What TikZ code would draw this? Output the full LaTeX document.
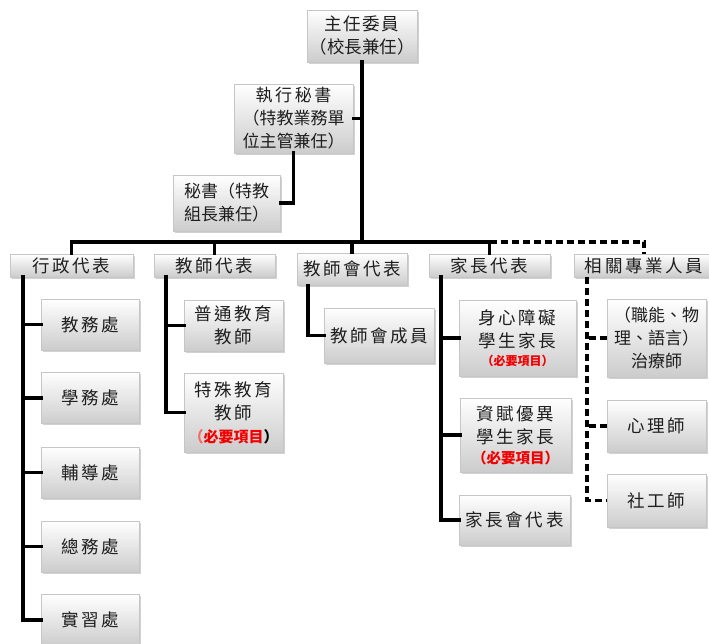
\documentclass[tikz,border=0pt]{standalone}
\usepackage{fontspec}
\newfontfamily\cjk[LetterSpace=15]{Noto Sans CJK TC}
\newfontfamily\cjkn[LetterSpace=0]{Noto Sans CJK TC}
\newfontfamily\cjkr{Noto Sans CJK TC}
\usetikzlibrary{shadows,calc}
\definecolor{txt}{RGB}{30,30,30}
\definecolor{req}{RGB}{240,0,0}
\tikzset{
  box/.style={draw=gray!45, line width=0.4pt, top color=white, bottom color=gray!40,
    drop shadow={shadow xshift=1.5pt, shadow yshift=-1.8pt, opacity=0.35},
    align=center, inner sep=1pt, text=txt,
    font=\cjk\fontsize{17.5}{23}\selectfont},
  nbox/.style={box, font=\cjkn\fontsize{17}{23}\selectfont},
  conn/.style={line width=3.4pt, line cap=rect},
  dconn/.style={line width=3.4pt, dash pattern=on 7pt off 4pt},
}
\begin{document}
\begin{tikzpicture}[x=1pt,y=-1pt]
\useasboundingbox[fill=white] (0,0) rectangle (709,644);
% top level
\node[box, minimum width=110pt, minimum height=52pt, font=\cjkn\fontsize{17.5}{23}\selectfont] (top) at (362,36) {\addfontfeature{LetterSpace=8}主任委員\\（校長兼任）};
\node[nbox, minimum width=119pt, minimum height=69pt] (exec) at (293.5,118.5) {\addfontfeature{LetterSpace=15}執行秘書\\（特教業務單\\位主管兼任）};
\node[nbox, minimum width=107pt, minimum height=56pt] (sec) at (226.5,203) {秘書（特教\\組長兼任）};
% second row
\node[box, minimum width=123pt, minimum height=23pt] (xz) at (71.5,265.5) {行政代表};
\node[box, minimum width=121pt, minimum height=23pt] (js) at (214.5,265.5) {教師代表};
\node[box, minimum width=110pt, minimum height=32pt] (jsh) at (352,269) {教師會代表};
\node[box, minimum width=121pt, minimum height=23pt] (jz) at (489.5,265.5) {家長代表};
\node[box, minimum width=140pt, minimum height=23pt] (xg) at (644,265.5) {相關專業人員};
% administrative
\node[box, minimum width=98pt, minimum height=51pt] (a1) at (90,324.5) {教務處};
\node[box, minimum width=98pt, minimum height=51pt] (a2) at (90,398) {學務處};
\node[box, minimum width=98pt, minimum height=51pt] (a3) at (90,472.5) {輔導處};
\node[box, minimum width=98pt, minimum height=51pt] (a4) at (90,546.5) {總務處};
\node[box, minimum width=98pt, minimum height=51pt] (a5) at (90,620) {實習處};
% teachers
\node[box, minimum width=99pt, minimum height=51pt] (t1) at (233.5,325.5) {普通教育\\教師};
\node[box, minimum width=99pt, minimum height=79pt] (t2) at (233.5,412.5) {特殊教育\\教師\\{\cjkr\bfseries\fontsize{15}{20}\selectfont{\color{req!60}（}\color{req}必要項目\color{black}）}};
% teachers' association
\node[box, minimum width=110pt, minimum height=55pt] (m1) at (379,335.5) {教師會成員};
% parents
\node[box, minimum width=117pt, minimum height=76pt] (p1) at (517.5,338) {身心障礙\\學生家長\\[-5pt]{\cjkr\bfseries\fontsize{12}{14}\selectfont\color{req}（必要項目）}};
\node[box, minimum width=111pt, minimum height=74pt] (p2) at (515.5,435) {資賦優異\\學生家長\\[-3pt]{\cjkr\bfseries\fontsize{14.5}{17}\selectfont\color{req}（必要項目）}};
\node[box, minimum width=111pt, minimum height=50pt] (p3) at (514.5,520) {家長會代表};
% professionals
\node[nbox, minimum width=99pt, minimum height=78pt] (r1) at (656.5,338) {（職能、物\\理、語言）\\治療師};
\node[box, minimum width=99pt, minimum height=52pt] (r2) at (656.5,426) {心理師};
\node[box, minimum width=99pt, minimum height=53pt] (r3) at (656.5,500.5) {社工師};
% coordinates
\coordinate (bus) at (362,242);
\coordinate (xzl) at ($(xz.south west)+(13,0)$);
\coordinate (jsl) at ($(js.south west)+(12,0)$);
\coordinate (jshl) at ($(jsh.south west)+(11,0)$);
\coordinate (jzl) at ($(jz.south west)+(12,0)$);
\coordinate (xgl) at ($(xg.south west)+(13,0)$);
% upper connectors
\draw[conn] (top.south) -- (bus);
\draw[conn] (exec.east) -- (exec.east -| top.south);
\draw[conn] (exec.south) |- (sec.east);
\draw[conn] (xz.north) |- (jz.north |- bus) -- (jz.north);
\draw[conn] (js.north) -- (js.north |- bus);
\draw[conn] (jsh.north) -- (jsh.north |- bus);
\draw[dconn] (jz.north |- bus) -| (xg.north);
% administrative
\draw[conn] (xzl) |- (a5.west);
\foreach \n in {a1,a2,a3,a4} \draw[conn] (\n.west) -- (\n.west -| xzl);
% teachers
\draw[conn] (jsl) |- (t2.west);
\draw[conn] (t1.west) -- (t1.west -| jsl);
% teachers' association
\draw[conn] (jshl) |- (m1.west);
% parents
\draw[conn] (jzl) |- (p3.west);
\foreach \n in {p1,p2} \draw[conn] (\n.west) -- (\n.west -| jzl);
% professionals
\draw[dconn] (xgl) |- (r3.west);
\foreach \n in {r1,r2} \draw[dconn] (\n.west) -- (\n.west -| xgl);
\end{tikzpicture}
\end{document}
